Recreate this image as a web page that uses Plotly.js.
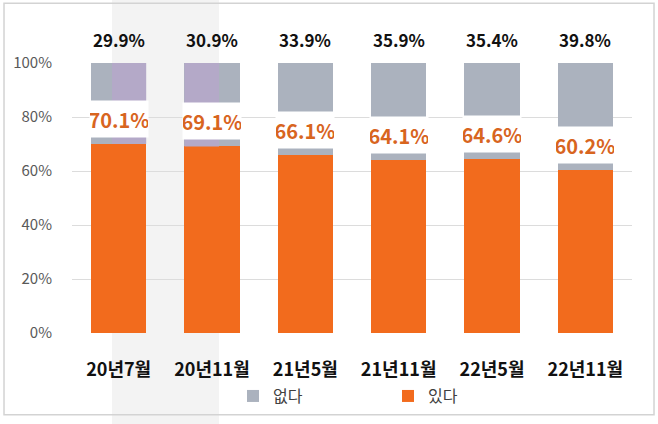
<!DOCTYPE html>
<html>
<head>
<meta charset="utf-8">
<script src="https://cdn.plot.ly/plotly-3.0.1.min.js"></script>
<style>html,body{margin:0;padding:0;background:#fff;}#chart{width:658px;height:424px;}</style>
</head>
<body>
<div id="chart"></div>
<script>
const categories = ['20년7월', '20년11월', '21년5월', '21년11월', '22년5월', '22년11월'];
const yesValues = [70.1, 69.1, 66.1, 64.1, 64.6, 60.2];   // 있다
const noValues  = [29.9, 30.9, 33.9, 35.9, 35.4, 39.8];   // 없다
const yTickVals = [0, 20, 40, 60, 80, 100];
const yTickText = ['0%', '20%', '40%', '60%', '80%', '100%'];

const FONT = '"Noto Sans CJK KR", "Noto Sans", sans-serif';
const ORANGE = '#f26b1d';
const GRAY = '#abb2be';

const traces = [
  { type: 'bar', name: '있다', x: categories, y: yesValues,
    marker: { color: ORANGE }, hoverinfo: 'skip' },
  { type: 'bar', name: '없다', x: categories, y: noValues,
    marker: { color: GRAY }, hoverinfo: 'skip' }
];

const annotations = [];
categories.forEach((c, i) => {
  annotations.push({
    x: c, y: 100, xref: 'x', yref: 'y', yshift: 24, yanchor: 'middle',
    text: noValues[i].toFixed(1) + '%', showarrow: false,
    font: { family: FONT, size: 17, color: '#111', weight: 700 }
  });
  annotations.push({
    x: c, y: yesValues[i], xref: 'x', yref: 'y', yshift: 25, yanchor: 'middle',
    text: yesValues[i].toFixed(1) + '%', showarrow: false,
    bgcolor: '#ffffff', width: 58, height: 36, borderpad: 0,
    font: { family: FONT, size: 20, color: '#d8651f', weight: 700 }
  });
});

// highlight band and its tint on the gray segments of the first two bars
const shapes = [
  { type: 'rect', xref: 'paper', yref: 'paper', x0: 0.0714, x1: 0.2625, y0: -0.35, y1: 1.25,
    fillcolor: '#f3f3f3', line: { width: 0 }, layer: 'below' },
  { type: 'rect', xref: 'paper', yref: 'paper', x0: -0.1214, x1: 1.0393, y0: -0.3026, y1: 1.2214,
    fillcolor: 'rgba(0,0,0,0)', line: { color: '#d3d3d3', width: 1.5 }, layer: 'below' },
  { type: 'rect', xref: 'x', yref: 'y', x0: -0.071, x1: 0.295, y0: yesValues[0], y1: 100,
    fillcolor: '#b4a9c8', line: { width: 0 }, layer: 'above' },
  { type: 'rect', xref: 'x', yref: 'y', x0: 0.705, x1: 1.075, y0: yesValues[1], y1: 100,
    fillcolor: '#b4a9c8', line: { width: 0 }, layer: 'above' }
];

const layout = {
  width: 658, height: 424,
  margin: { l: 72, r: 26, t: 63, b: 90 },
  paper_bgcolor: '#ffffff',
  plot_bgcolor: 'rgba(0,0,0,0)',
  barmode: 'stack',
  bargap: 0.41,
  showlegend: true,
  legend: {
    orientation: 'h', traceorder: 'reversed',
    x: 0.2875, xanchor: 'left', y: -0.229, yanchor: 'middle',
    entrywidth: 110, itemwidth: 30,
    font: { family: FONT, size: 16, color: '#404040' },
    bgcolor: 'rgba(0,0,0,0)'
  },
  xaxis: {
    type: 'category', range: [-0.5, 5.5], fixedrange: true,
    showgrid: false, zeroline: false, showline: false,
    ticks: '', ticklabelstandoff: 24,
    tickfont: { family: FONT, size: 18, color: '#111', weight: 700 }
  },
  yaxis: {
    range: [0, 100], fixedrange: true,
    tickvals: yTickVals, ticktext: yTickText,
    showgrid: true, gridcolor: '#dcdcdc', gridwidth: 1,
    zeroline: false, showline: false, ticks: '', ticklabelstandoff: 19,
    tickfont: { family: FONT, size: 15, color: '#595959' }
  },
  annotations: annotations,
  shapes: shapes
};

Plotly.newPlot('chart', traces, layout, { staticPlot: true, displayModeBar: false });
</script>
</body>
</html>
